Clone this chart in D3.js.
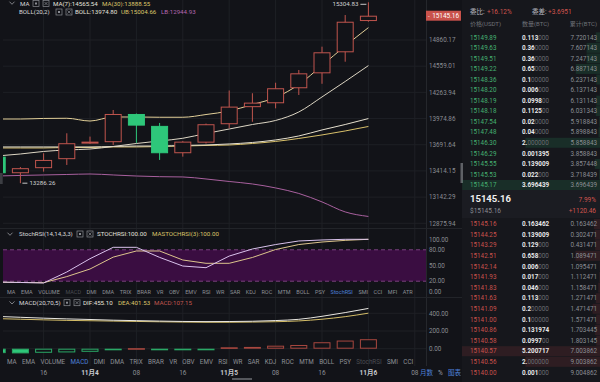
<!DOCTYPE html>
<html><head><meta charset="utf-8">
<script src="https://cdn.jsdelivr.net/npm/d3@7"></script>
<style>
html,body{margin:0;padding:0;background:#121318;}
svg{display:block;font-family:Roboto,"Noto Sans CJK SC",sans-serif;}
</style></head><body>
<svg id="c" width="600" height="382"></svg>
<script>
// ---------- data ----------
const timeLabels = ["16","11月4","08","16","11月5","08","16","11月6","08"];
const timeIdx    = [2,4,6,8,10,12,14,16,18];
const open  = [13565,13390,13443,13538,13708,13719,14025,13895,13601,13714,13913,14100,14143,14310,14478,14718,15082];
const high  = [13590,13455,13601,13815,13779,14069,14030,13927,13730,13920,14285,14254,14372,14516,14783,15153,15304.83];
const low   = [13375,13286.26,13407,13477,13700,13690,13711,13530,13565,13705,13869,13940,14087,14235,14360,14610,15074];
const close = [13390,13443,13530,13708,13725,14025,13898,13601,13725,13913,14106,14150,14310,14478,14718,15074,15145.16];
const ma7     = [13572,13593,13620,13636,13646,13673,13705,13732,13761,13813,13861,13910,13954,14047,14213,14386,14565.54];
const ma30    = [13657,13657,13657,13662,13662,13668,13668,13673,13678,13684,13689,13705,13727,13759,13797,13840,13888.55];
const bollMid = [13668,13668,13668,13668,13668,13673,13678,13678,13684,13689,13700,13716,13743,13786,13851,13910,13974.80];
const bollUp  = [13970,13970,13976,13978,13948,13992,13992,13989,13989,14019,14058,14129,14207,14352,14567,14791,15004.66];
const bollLow = [13361,13367,13372,13377,13382,13372,13361,13354,13351,13330,13304,13278,13237,13180,13093,12991,12944.93];
const priceTicks = [14860.17,14559.01,14263.94,13974.86,13691.64,13414.15,13142.29,12875.94];
const lastPrice = 15145.16;

const stochK = [18.5,17.6,16.6,37.6,63,84.7,84.7,65.5,49,45.8,68,81.5,90,96.8,98.7,100,100];
const stochD = [18,17.6,17.2,28.8,43.3,66,77.7,77.7,60.5,54.2,54.2,65.3,80.5,90,94.8,98,100];
const stochTicks = [100,80,50,20,0];

const dif  = [365,355,345,337,330,322,317,312,308,306,307,310,318,332,366,408,455.10];
const dea  = [340,333,326,320,316,312,308,304,301,299,299,301,305,314,333,362,401.53];
const macd = [-50,-53,-46,-42,-35,-8,6,-10,-8,-6,16,20,34,42,73,92,107.15];
const macdTicks = [400,200,0];

const askPrice = [15149.89,15149.63,15149.51,15149.22,15148.36,15148.20,15148.19,15148.18,15147.54,15147.48,15146.30,15146.29,15145.55,15145.53,15145.17];
const askQty   = [0.113,0.36,0.36,0.65,0.1,0.006,0.0998,0.1125,0.02,0.04,2,0.001395,0.139009,0.022,3.696439];
const askCum   = [7.720143,7.607143,7.247143,6.887143,6.237143,6.137143,6.131143,6.031343,5.918843,5.898843,5.858843,3.858843,3.857448,3.718439,3.696439];
const bidPrice = [15145.16,15144.25,15143.29,15142.51,15142.14,15141.93,15141.83,15141.63,15141.09,15141.00,15140.86,15140.58,15140.57,15140.56,15140.00];
const bidQty   = [0.163462,0.139009,0.129,0.658,0.006,0.017,0.046,0.113,0.2,0.1,0.131974,0.0997,5.200717,2,0.001];
const bidCum   = [0.163462,0.302471,0.431471,1.089471,1.095471,1.112471,1.158471,1.271471,1.471471,1.571471,1.703445,1.803145,7.003862,9.003862,9.004862];

const indicatorsA = ["MA","EMA","VOLUME","MACD","DMI","DMA","TRIX","BRAR","VR","OBV","EMV","RSI","WR","SAR","KDJ","ROC","MTM","BOLL","PSY","StochRSI","SMI","CCI","MFI","ATR"];
const indicatorsB = ["MA","EMA","VOLUME","MACD","DMI","DMA","TRIX","BRAR","VR","OBV","EMV","RSI","WR","SAR","KDJ","ROC","MTM","BOLL","PSY","StochRSI","SMI","CCI"];

// ---------- drawing ----------
const C = {bg:'#121318', panel:'#16171c', grid:'#1e2025', axis:'#8a8d93', red:'#c0554e', green:'#2ec77a',
  white:'#e4e2dc', yellow:'#dcc46a', purple:'#b567b0', blue:'#4d80d8', dim:'#4a4c52', grey:'#7d8086'};
const svg = d3.select('#c');
svg.append('rect').attr('width',600).attr('height',382).attr('fill',C.bg);
svg.append('rect').attr('x',462).attr('width',138).attr('height',382).attr('fill',C.panel);
svg.append('defs').append('clipPath').attr('id','plot').append('rect').attr('x',3).attr('y',0).attr('width',423).attr('height',382);

const x  = d3.scaleLinear().domain([0,18]).range([-2.8,414.8]);
const y  = d3.scaleLog().domain([12875.94,14860.17]).range([223.3,40]);
const yS = d3.scaleLinear().domain([0,100]).range([291.7,239.3]);
const yM = d3.scaleLinear().domain([0,400]).range([348.7,313.3]);
const idx = d3.range(open.length);

const g = svg.append('g');
g.selectAll('.vg').data(timeIdx).join('line').attr('x1',d=>x(d)).attr('x2',d=>x(d)).attr('y1',0).attr('y2',366)
  .attr('stroke',C.grid).attr('stroke-width',1);
g.selectAll('.hg').data(priceTicks).join('line').attr('x1',3).attr('x2',426).attr('y1',d=>y(d)).attr('y2',d=>y(d))
  .attr('stroke',C.grid);
g.selectAll('.mg').data(macdTicks).join('line').attr('x1',3).attr('x2',426).attr('y1',d=>yM(d)).attr('y2',d=>yM(d))
  .attr('stroke',C.grid);
g.append('line').attr('x1',426.5).attr('x2',426.5).attr('y1',0).attr('y2',366).attr('stroke','#25272c');
g.append('line').attr('x1',0).attr('x2',462).attr('y1',228.5).attr('y2',228.5).attr('stroke','#222429');
g.append('line').attr('x1',0).attr('x2',462).attr('y1',297.5).attr('y2',297.5).attr('stroke','#222429');

svg.selectAll('.pt').data(priceTicks).join('text').attr('x',429).attr('y',d=>y(d)).attr('dy','0.35em')
  .attr('font-size',6.3).attr('fill',C.axis).text(d=>d.toFixed(2));

const plot = svg.append('g').attr('clip-path','url(#plot)');
const line = (arr, sc) => d3.line().x((d,i)=>x(i)).y(d=>sc(d)).curve(d3.curveMonotoneX)(arr);
[[bollLow,'#a8609e'],[ma30,'#d8c06a'],[bollMid,'#e6e0cf'],[ma7,'#ddd6c4'],[bollUp,'#e2cf98']].forEach(([a,c])=>{
  plot.append('path').attr('d',line(a,y)).attr('fill','none').attr('stroke',c).attr('stroke-width',1);
});
const cw = 17;
const cg = plot.selectAll('.cd').data(idx).join('g');
cg.append('line').attr('x1',i=>x(i)).attr('x2',i=>x(i)).attr('y1',i=>y(high[i])).attr('y2',i=>y(low[i]))
  .attr('stroke',i=>close[i]>=open[i]?C.red:C.green).attr('stroke-width',1);
cg.append('rect')
  .attr('x',i=>x(i)-cw/2+0.5).attr('width',cw-1)
  .attr('y',i=>y(Math.max(open[i],close[i]))+0.5)
  .attr('height',i=>Math.max(1,Math.abs(y(open[i])-y(close[i]))-1))
  .attr('fill',i=>close[i]>=open[i]?C.bg:C.green)
  .attr('stroke',i=>close[i]>=open[i]?C.red:C.green).attr('stroke-width',1);

const iMax = d3.maxIndex(high), iMin = d3.minIndex(low);
svg.append('line').attr('x1',x(iMax)-8).attr('x2',x(iMax)-2).attr('y1',y(high[iMax])+2).attr('y2',y(high[iMax])+2).attr('stroke','#c8c8c8');
svg.append('text').attr('x',x(iMax)-10).attr('y',y(high[iMax])+2).attr('dy','0.35em').attr('text-anchor','end')
  .attr('font-size',6.2).attr('fill','#d0d0d0').text(high[iMax].toFixed(2));
svg.append('line').attr('x1',x(iMin)+2).attr('x2',x(iMin)+7).attr('y1',y(low[iMin])).attr('y2',y(low[iMin])).attr('stroke','#c8c8c8');
svg.append('text').attr('x',x(iMin)+9).attr('y',y(low[iMin])).attr('dy','0.35em')
  .attr('font-size',6.2).attr('fill','#d0d0d0').text(low[iMin].toFixed(2));

svg.append('rect').attr('x',426).attr('y',y(lastPrice)-5).attr('width',35).attr('height',10).attr('fill','#c9524b');
svg.append('text').attr('x',428).attr('y',y(lastPrice)).attr('dy','0.35em').attr('font-size',6).attr('fill','#fff').text('-');
svg.append('text').attr('x',459).attr('y',y(lastPrice)).attr('dy','0.35em').attr('text-anchor','end').attr('font-size',6.4).attr('fill','#fff').text(lastPrice.toFixed(2));

function chevron(cx,cy){svg.append('path').attr('d',`M${cx-2.5},${cy-1.3}L${cx},${cy+1.3}L${cx+2.5},${cy-1.3}`).attr('fill','none').attr('stroke','#9a9ca2').attr('stroke-width',0.8);}
function icons(x0,cy){
  svg.append('rect').attr('x',x0).attr('y',cy-3).attr('width',6).attr('height',6).attr('fill','none').attr('stroke','#8a8c92').attr('stroke-width',0.7);
  svg.append('rect').attr('x',x0+2).attr('y',cy-1).attr('width',2).attr('height',2).attr('fill','#8a8c92');
  svg.append('rect').attr('x',x0+10).attr('y',cy-3).attr('width',6).attr('height',6).attr('fill','none').attr('stroke','#8a8c92').attr('stroke-width',0.7);
  svg.append('path').attr('d',`M${x0+11.5},${cy-1.5}L${x0+14.5},${cy+1.5}M${x0+14.5},${cy-1.5}L${x0+11.5},${cy+1.5}`).attr('stroke','#8a8c92').attr('stroke-width',0.7);
}
function txt(xx,yy,s,col,fs){return svg.append('text').attr('x',xx).attr('y',yy).attr('dy','0.35em').attr('font-size',fs||6.2).attr('fill',col).text(s);}
const L = a=>a[a.length-1];
chevron(12,3); txt(20,3.5,'MA','#d8d8d8'); icons(33,3.5);
txt(53,3.5,`MA(7):${L(ma7).toFixed(2)}`,C.white); txt(102,3.5,`MA(30):${L(ma30).toFixed(2)}`,C.yellow);
txt(19,12,'BOLL(20,2)','#d8d8d8'); icons(56,12);
txt(75,12,`BOLL:${L(bollMid).toFixed(2)}`,C.white); txt(121,12,`UB:${L(bollUp).toFixed(2)}`,C.yellow); txt(161,12,`LB:${L(bollLow).toFixed(2)}`,C.purple);

// ---- StochRSI panel ----
svg.append('rect').attr('x',3).attr('width',423).attr('y',yS(80)).attr('height',yS(20)-yS(80)).attr('fill','#3a0d41');
[80,20].forEach(v=>svg.append('line').attr('x1',3).attr('x2',426).attr('y1',yS(v)).attr('y2',yS(v)).attr('stroke','#8e4e92').attr('stroke-dasharray','4,3').attr('stroke-width',0.8));
const sp = svg.append('g').attr('clip-path','url(#plot)');
sp.append('path').attr('d',d3.line().x((d,i)=>x(i)).y(d=>yS(d))(stochD)).attr('fill','none').attr('stroke','#dcc48c').attr('stroke-width',1);
sp.append('path').attr('d',d3.line().x((d,i)=>x(i)).y(d=>yS(d))(stochK)).attr('fill','none').attr('stroke','#d9c2ec').attr('stroke-width',1);
svg.selectAll('.st').data(stochTicks).join('text').attr('x',429).attr('y',d=>yS(d)).attr('dy','0.35em').attr('font-size',6.3).attr('fill',C.axis).text(d=>d.toFixed(2));
chevron(10,234); txt(19,234,'StochRSI(14,14,3,3)','#d8d8d8'); icons(77,234);
txt(97,234,`STOCHRSI:${L(stochK).toFixed(2)}`,C.white); txt(152,234,`MASTOCHRSI(3):${L(stochD).toFixed(2)}`,C.yellow);

// ---- MACD panel ----
const mp = svg.append('g').attr('clip-path','url(#plot)');
mp.selectAll('rect').data(idx).join('rect')
  .attr('x',i=>x(i)-cw/2+0.5).attr('width',cw-1)
  .attr('y',i=>Math.min(yM(0),yM(macd[i]))+0.5)
  .attr('height',i=>Math.max(0.6,Math.abs(yM(macd[i])-yM(0))-1))
  .attr('fill',i=>macd[i]>=0?C.bg:((i===0||Math.abs(macd[i])>=Math.abs(macd[i-1]))?C.green:C.bg))
  .attr('stroke',i=>macd[i]>=0?'#a8473f':'#2aa866').attr('stroke-width',1);
mp.append('path').attr('d',d3.line().x((d,i)=>x(i)).y(d=>yM(d)).curve(d3.curveMonotoneX)(dea)).attr('fill','none').attr('stroke','#d4bd68').attr('stroke-width',1);
mp.append('path').attr('d',d3.line().x((d,i)=>x(i)).y(d=>yM(d)).curve(d3.curveMonotoneX)(dif)).attr('fill','none').attr('stroke','#e8e6e0').attr('stroke-width',1);
svg.selectAll('.mt').data(macdTicks).join('text').attr('x',429).attr('y',d=>yM(d)).attr('dy','0.35em').attr('font-size',6.3).attr('fill',C.axis).text(d=>d.toFixed(2));
chevron(12,302.7); txt(19,302.7,'MACD(20,70,5)','#d8d8d8'); icons(64,302.7);
txt(83,302.7,`DIF:${L(dif).toFixed(2)}`,C.white); txt(118,302.7,`DEA:${L(dea).toFixed(2)}`,C.yellow); txt(154,302.7,`MACD:${L(macd).toFixed(2)}`,'#c0574f');

function tabs(list,y0,fs,gap,dimName,activeName){
  let cx=7;
  list.forEach(n=>{
    const t=txt(cx,y0,n,n===activeName?C.blue:(n===dimName?C.dim:'#8d9096'),fs);
    cx+=t.node().getComputedTextLength()+gap;
  });
}
tabs(indicatorsA,292,5.5,5.6,'MACD','StochRSI');
tabs(indicatorsB,362,6.3,5.3,'StochRSI','MACD');

svg.selectAll('.tl').data(timeLabels).join('text').attr('x',(d,i)=>x(timeIdx[i])).attr('y',373).attr('dy','0.35em')
  .attr('text-anchor','middle').attr('font-size',6.5)
  .attr('font-weight',d=>d.includes('月')?'bold':'normal')
  .attr('fill',d=>d.includes('月')?'#c9cbd0':'#8d9096').text(d=>d);
txt(420,373,'月数',C.blue,6.5); txt(438,373,'%','#9a9ca2',6.5); txt(448,373,'图表',C.blue,6.5);
svg.append('rect').attr('x',232).attr('y',378).attr('width',20).attr('height',2).attr('fill','#55575c');
svg.append('rect').attr('x',0).attr('y',173).attr('width',2.7).attr('height',11).attr('fill','#3c3e43');
svg.append('rect').attr('x',460.5).attr('y',163).attr('width',2.5).attr('height',20).attr('fill','#5f6166');

// ---- order book ----
const OB = svg.append('g');
txt(470,12,'委比:','#b8bac0',6.5); txt(487,12,'+16.12%','#d0554e',6.5);
txt(532,12,'委差:','#b8bac0',6.5); txt(548,12,'+3.6951','#d0554e',6.5);
txt(470,24,'价格(USDT)','#6f7278',6); txt(522,24,'数量(BTC)','#6f7278',6);
svg.append('text').attr('x',597).attr('y',24).attr('dy','0.35em').attr('text-anchor','end').attr('font-size',6).attr('fill','#6f7278').text('累计(BTC)');
const qs = d3.scaleLinear().domain([0,3.7]).range([0,138]).clamp(true);
function rows(prices,qty,cum,y0,step,col,barCol){
  prices.forEach((p,j)=>{
    const yy=y0+j*step;
    OB.append('rect').attr('x',600-qs(qty[j])).attr('y',yy-5).attr('width',qs(qty[j])).attr('height',10).attr('fill',barCol);
    txt(470,yy,p.toFixed(2),col,6.3);
    const s=qty[j].toFixed(6), b=s.replace(/0+$/,'');
    const t=txt(522,yy,'', '#e8e8e8',6.3);
    t.append('tspan').attr('font-weight','bold').text(b);
    t.append('tspan').attr('fill','#6a6d73').text(s.slice(b.length));
    svg.append('text').attr('x',597).attr('y',yy).attr('dy','0.35em').attr('text-anchor','end').attr('font-size',6.3).attr('fill','#8b8e94').text(cum[j].toFixed(6));
  });
}
rows(askPrice,askQty,askCum,37.3,10.55,'#45b271','rgba(46,199,122,0.13)');
svg.append('rect').attr('x',462).attr('y',190).attr('width',138).attr('height',28).attr('fill','#1b1c22');
txt(470,199,lastPrice.toFixed(2),'#f0f0f0',9.5).attr('font-weight','bold');
txt(470,210.5,'$'+lastPrice.toFixed(2),'#8b8e94',6.5);
svg.append('text').attr('x',596).attr('y',199.5).attr('dy','0.35em').attr('text-anchor','end').attr('font-size',6.5).attr('fill','#d0554e').text('7.99%');
svg.append('text').attr('x',596).attr('y',210.5).attr('dy','0.35em').attr('text-anchor','end').attr('font-size',6.5).attr('fill','#d0554e').text('+1120.46');
rows(bidPrice,bidQty,bidCum,224,10.6,'#c9524c','rgba(200,70,70,0.14)');
</script>
</body></html>
